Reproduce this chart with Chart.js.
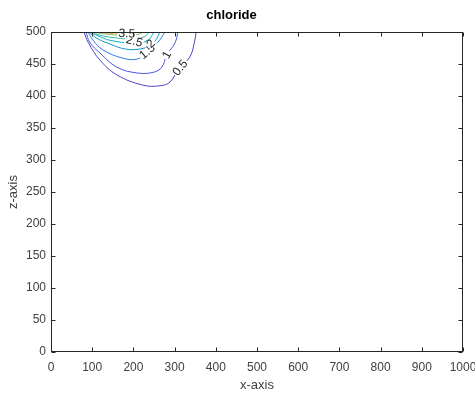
<!DOCTYPE html>
<html>
<head>
<meta charset="utf-8">
<script src="https://cdn.jsdelivr.net/npm/chart.js@4"></script>
<style>
  html, body { margin: 0; padding: 0; background: #fff; }
  #wrap { width: 475px; height: 396px; }
</style>
</head>
<body>
<div id="wrap"><canvas id="chart" width="475" height="396"></canvas></div>
<script>
// contour levels and the (x, z) points of each contour line
const levels = [0.5, 1, 1.5, 2, 2.5, 3, 3.5, 4, 4.5];
const c05 = [[80,500],[90,484],[119,456],[160,433],[223,417],[265,416],[289,422],[308,441],[337,461],[349,487],[352,500]];
const c10 = [[85,500],[94,484],[119,467],[160,445],[209,436],[248,437],[269,445],[281,464],[301,483],[308,500]];
const c15 = [[90,500],[102,487],[126,472],[175,459],[211,458],[233,469],[255,481],[269,492],[276,500]];
const c20 = [[92,500],[109,491],[136,483],[184,473],[228,475],[245,481],[257,490],[264,500]];
const c25 = [[94,500],[114,494],[143,487],[199,483],[235,487],[250,500]];
const c30 = [[97,500],[119,495],[155,491],[204,489],[230,494],[238,500]];
const c35 = [[99,500],[131,497],[184,494.5],[216,497],[223,500]];
const c40 = [[107,500],[143,497.7],[187,497.7],[209,500]];
const c45 = [[119,500],[155,498.5],[187,500]];
const contours = [c05, c10, c15, c20, c25, c30, c35, c40, c45];

// inline contour labels
const labelText = ['0.5', '1', '1.5', '2', '2.5', '3.5'];
const labelX = [314, 282, 234, 243, 202, 184];
const labelZ = [444, 464, 469, 481, 485, 497];
const labelAngle = [-51, -62, -40, -45, 15, 4];

const xTicks = [0, 100, 200, 300, 400, 500, 600, 700, 800, 900, 1000];
const zTicks = [0, 50, 100, 150, 200, 250, 300, 350, 400, 450, 500];

// parula-like colours, low to high
const colors = ['#5040c8', '#4858e4', '#2c7ae8', '#1596d6', '#0cb0c6', '#35bca0', '#8cc073', '#d8bb55', '#f5dd2a'];

const FONT = '"Liberation Sans", Arial, sans-serif';
const AXIS = '#262626';
const TICK = '#404040';

// MATLAB style box with inward ticks on all four sides
const boxPlugin = {
  id: 'box',
  afterDraw(chart) {
    const { ctx, chartArea: a, scales } = chart;
    const l = Math.round(a.left) + 0.5, r = Math.round(a.right) - 0.5;
    const t = Math.round(a.top) + 0.5, b = Math.round(a.bottom) - 0.5;
    ctx.save();
    ctx.strokeStyle = AXIS;
    ctx.lineWidth = 1;
    ctx.strokeRect(l, t, r - l, b - t);
    ctx.beginPath();
    scales.x.ticks.forEach(tk => {
      const px = Math.round(scales.x.getPixelForValue(tk.value)) + 0.5;
      ctx.moveTo(px, b); ctx.lineTo(px, b - 4);
      ctx.moveTo(px, t); ctx.lineTo(px, t + 4);
    });
    scales.y.ticks.forEach(tk => {
      const py = Math.round(scales.y.getPixelForValue(tk.value)) + 0.5;
      ctx.moveTo(l, py); ctx.lineTo(l + 4, py);
      ctx.moveTo(r, py); ctx.lineTo(r - 4, py);
    });
    ctx.stroke();
    ctx.restore();
  }
};

const labelPlugin = {
  id: 'clabels',
  afterDatasetsDraw(chart) {
    const { ctx, scales } = chart;
    ctx.save();
    ctx.font = '12px ' + FONT;
    ctx.textAlign = 'center';
    ctx.textBaseline = 'middle';
    labelText.forEach((txt, i) => {
      const px = scales.x.getPixelForValue(labelX[i]);
      const py = scales.y.getPixelForValue(labelZ[i]);
      const w = ctx.measureText(txt).width;
      ctx.save();
      ctx.translate(px, py);
      ctx.rotate(labelAngle[i] * Math.PI / 180);
      ctx.fillStyle = '#fff';
      ctx.fillRect(-w / 2 - 1, -4, w + 2, 8);
      ctx.fillStyle = AXIS;
      ctx.fillText(txt, 0, 0);
      ctx.restore();
    });
    ctx.restore();
  }
};

new Chart(document.getElementById('chart'), {
  type: 'scatter',
  data: {
    datasets: contours.map((pts, i) => ({
      label: String(levels[i]),
      data: pts.map(p => ({ x: p[0], y: p[1] })),
      showLine: true,
      borderColor: colors[i],
      borderWidth: 1,
      pointRadius: 0,
      tension: 0.4,
      fill: false
    }))
  },
  options: {
    responsive: false,
    animation: false,
    layout: { padding: { left: 0, right: 12, top: 0, bottom: 0 } },
    plugins: {
      legend: { display: false },
      tooltip: { enabled: false },
      title: {
        display: true,
        text: 'chloride',
        color: '#000',
        font: { family: FONT, size: 13, weight: 'bold' },
        padding: { top: 7.2, bottom: 9.2 }
      }
    },
    scales: {
      x: {
        type: 'linear',
        min: 0,
        max: 1000,
        afterBuildTicks: s => { s.ticks = xTicks.map(v => ({ value: v })); },
        // let the "1000" label run past the edge, like the original
        afterFit: s => { s.height = 44; s.paddingLeft = 0; s.paddingRight = 0; },
        grid: { display: false, drawTicks: false },
        border: { display: false },
        ticks: { color: TICK, font: { family: FONT, size: 12 }, padding: 8, maxRotation: 0, callback: v => String(v) },
        title: { display: true, text: 'x-axis', color: TICK, font: { family: FONT, size: 13 }, padding: { top: 0, bottom: 3 } }
      },
      y: {
        type: 'linear',
        min: 0,
        max: 500,
        afterBuildTicks: s => { s.ticks = zTicks.map(v => ({ value: v })); },
        afterFit: s => { s.width = 51; },
        grid: { display: false, drawTicks: false },
        border: { display: false },
        ticks: { color: TICK, font: { family: FONT, size: 12 }, padding: 5, callback: v => String(v) },
        title: { display: true, text: 'z-axis', color: TICK, font: { family: FONT, size: 13 }, padding: { top: 6, bottom: 0 } }
      }
    }
  },
  plugins: [boxPlugin, labelPlugin]
});
</script>
</body>
</html>
